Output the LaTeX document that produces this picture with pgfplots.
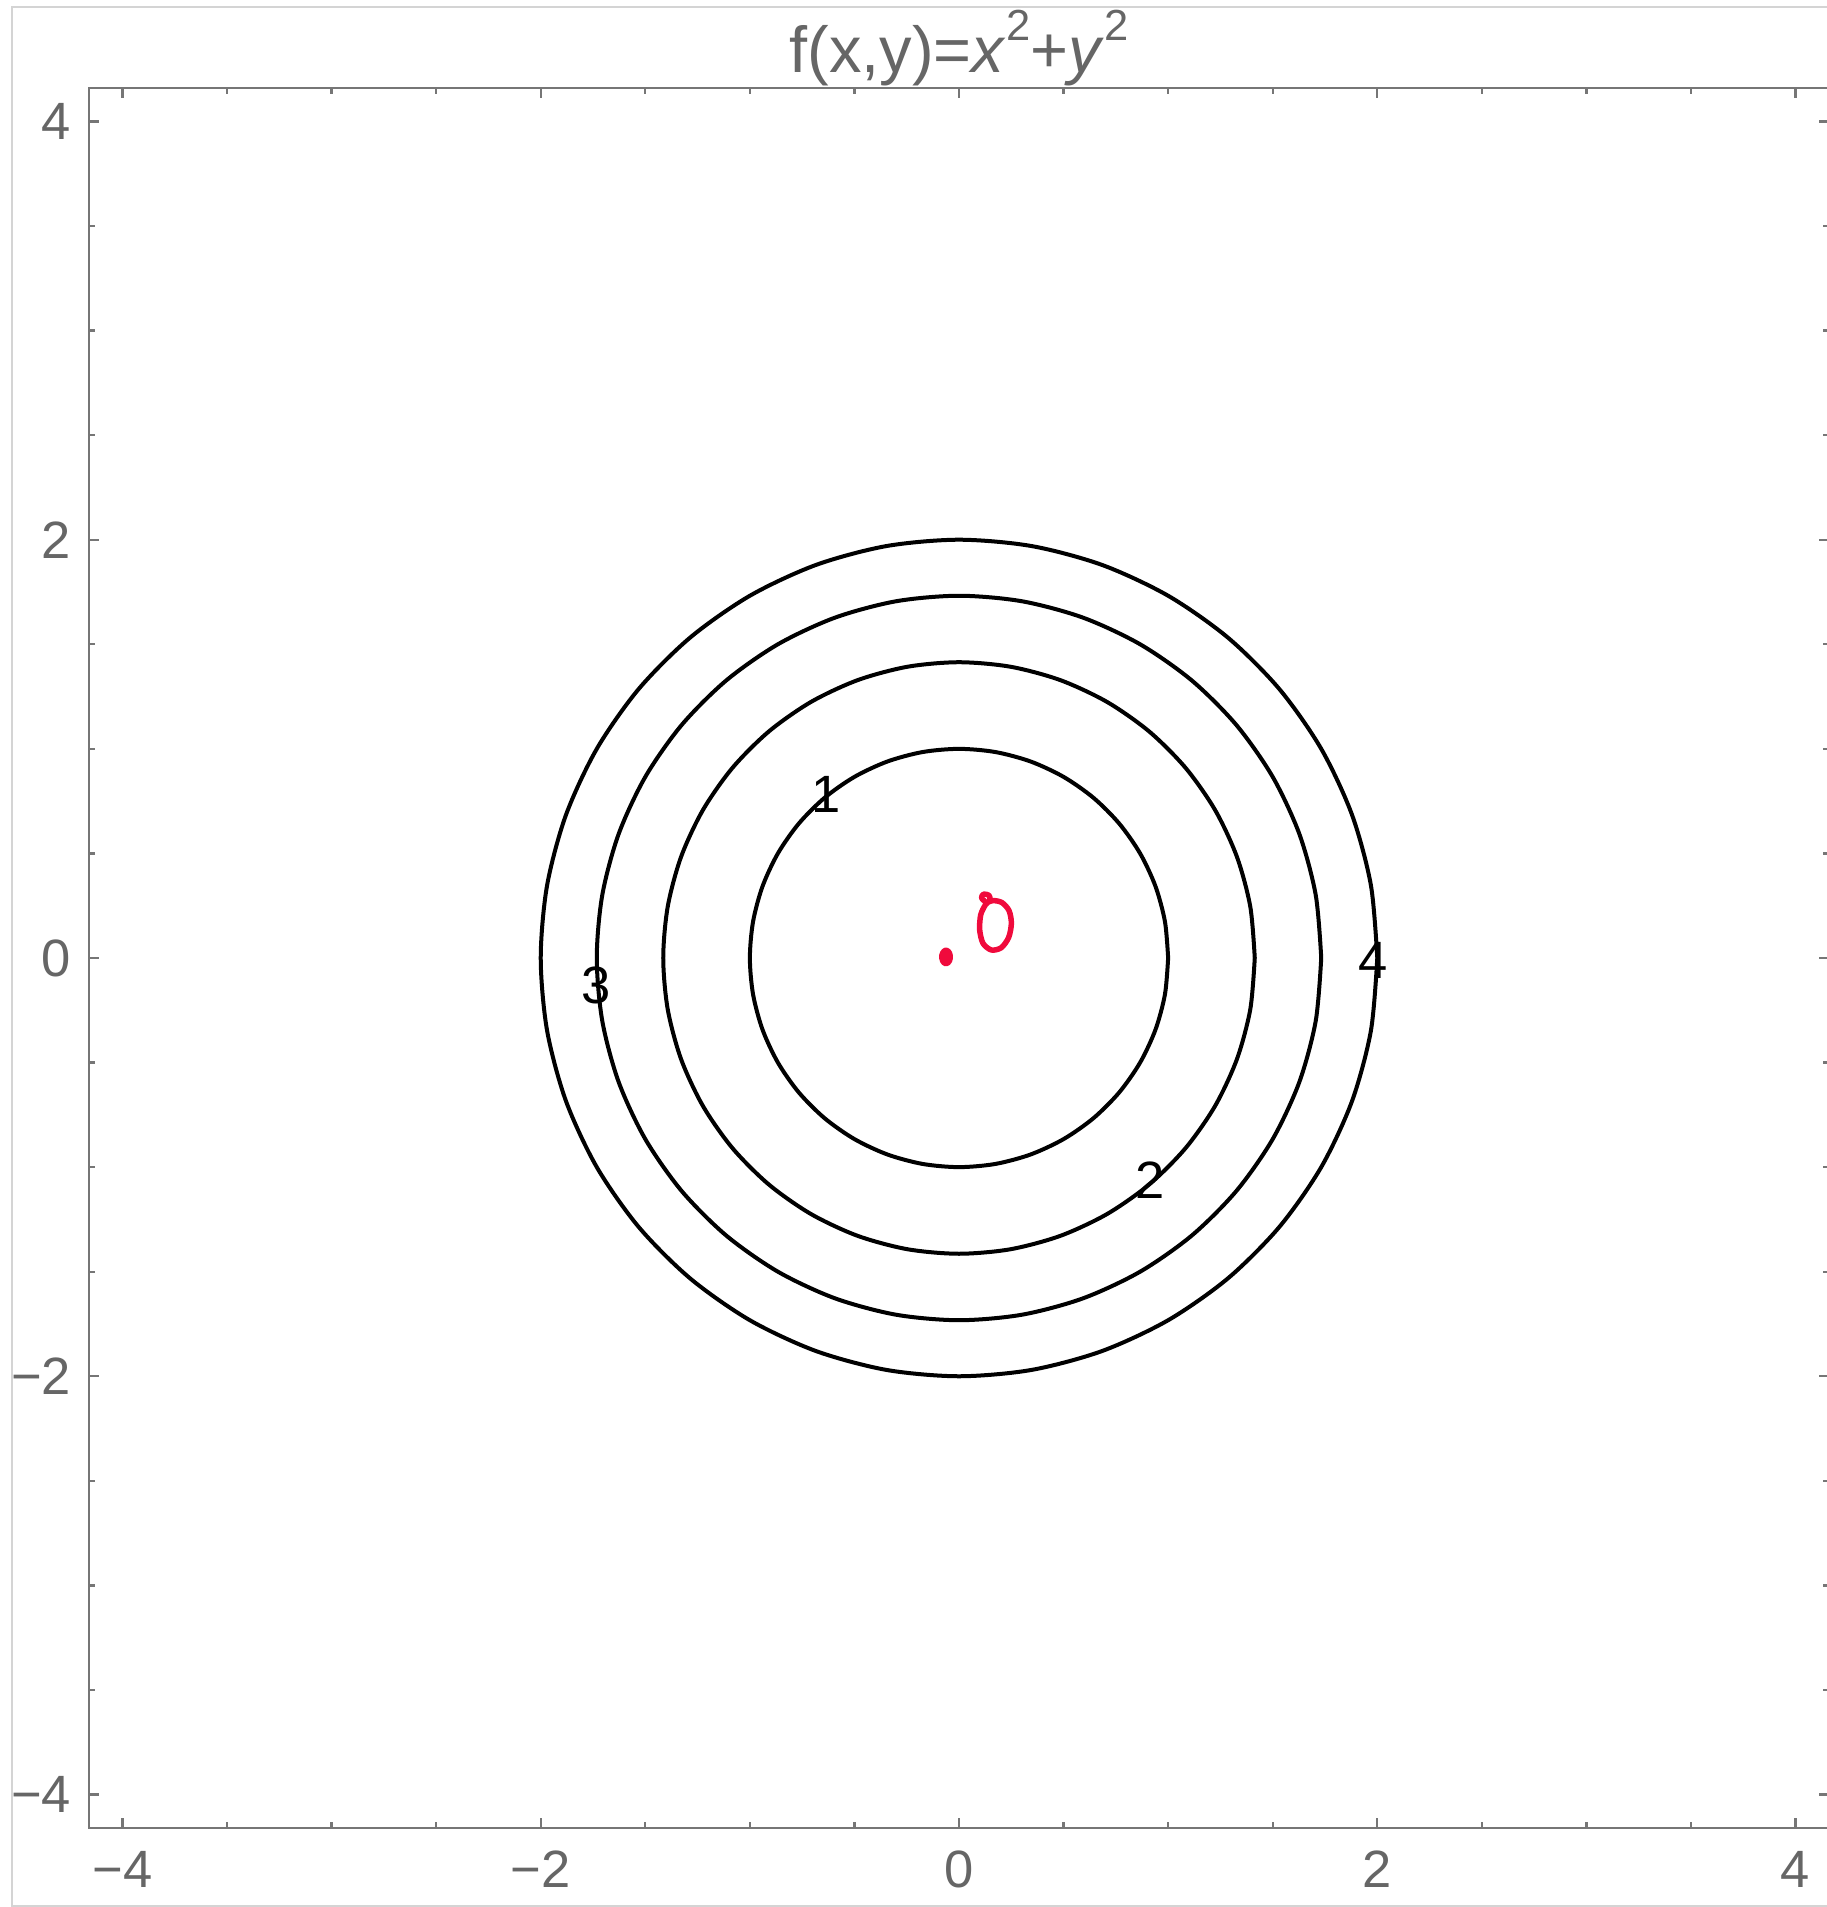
\documentclass[border=0pt]{standalone}
\usepackage{pgfplots}
\pgfplotsset{compat=1.18}
\usepackage{fontspec}
\setmainfont{Liberation Sans}
\definecolor{framegray}{RGB}{118,118,118}
\definecolor{labelgray}{RGB}{102,102,102}
\definecolor{bordergray}{RGB}{212,212,212}
\definecolor{inkred}{RGB}{240,10,60}
\begin{document}
\begin{tikzpicture}
\begin{axis}[
  scale only axis,
  width=348pt, height=348pt,
  xmin=-4.16, xmax=4.16, ymin=-4.16, ymax=4.16,
  xtick={-4,-2,0,2,4}, ytick={-4,-2,0,2,4},
  xticklabels={−4,−2,0,2,4}, yticklabels={−4,−2,0,2,4},
  minor tick num=3,
  tick align=inside,
  major tick length=2pt, minor tick length=1.2pt,
  axis line style={framegray, line width=0.45pt},
  every tick/.style={framegray, line width=0.45pt},
  xticklabel style={font=\fontsize{10.5}{10.5}\selectfont, text=labelgray, anchor=base, yshift=-12pt, inner sep=0pt},
  yticklabel style={font=\fontsize{10.5}{10.5}\selectfont, text=labelgray, anchor=east, xshift=-3.4pt, inner sep=0pt},
  title={f(x,y)=\textit{x}\raisebox{6.5pt}{\fontsize{8.7}{8.7}\selectfont 2}+\textit{y}\raisebox{6.5pt}{\fontsize{8.7}{8.7}\selectfont 2}},
  every axis title/.style={at={(0.5,1)}, anchor=base, yshift=3pt, inner sep=0pt, text=labelgray, font=\fontsize{13}{13}\selectfont},
  clip=false,
]
% contour f=1
\addplot[black, line width=0.8pt, smooth, line join=round] coordinates {
(1,0) (0.98481,0.17365) (0.93969,0.34202) (0.86603,0.5) (0.76604,0.64279) (0.64279,0.76604) (0.5,0.86603) (0.34202,0.93969) (0.17365,0.98481)
(0,1) (-0.17365,0.98481) (-0.34202,0.93969) (-0.5,0.86603) (-0.64279,0.76604) (-0.76604,0.64279) (-0.86603,0.5) (-0.93969,0.34202) (-0.98481,0.17365)
(-1,0) (-0.98481,-0.17365) (-0.93969,-0.34202) (-0.86603,-0.5) (-0.76604,-0.64279) (-0.64279,-0.76604) (-0.5,-0.86603) (-0.34202,-0.93969) (-0.17365,-0.98481)
(0,-1) (0.17365,-0.98481) (0.34202,-0.93969) (0.5,-0.86603) (0.64279,-0.76604) (0.76604,-0.64279) (0.86603,-0.5) (0.93969,-0.34202) (0.98481,-0.17365)
(1,0)};
% contour f=2
\addplot[black, line width=0.8pt, smooth, line join=round] coordinates {
(1.41421,0) (1.39273,0.24558) (1.32892,0.48369) (1.22474,0.70711) (1.08335,0.90904) (0.90904,1.08335) (0.70711,1.22474) (0.48369,1.32892) (0.24558,1.39273)
(0,1.41421) (-0.24558,1.39273) (-0.48369,1.32892) (-0.70711,1.22474) (-0.90904,1.08335) (-1.08335,0.90904) (-1.22474,0.70711) (-1.32892,0.48369) (-1.39273,0.24558)
(-1.41421,0) (-1.39273,-0.24558) (-1.32892,-0.48369) (-1.22474,-0.70711) (-1.08335,-0.90904) (-0.90904,-1.08335) (-0.70711,-1.22474) (-0.48369,-1.32892) (-0.24558,-1.39273)
(0,-1.41421) (0.24558,-1.39273) (0.48369,-1.32892) (0.70711,-1.22474) (0.90904,-1.08335) (1.08335,-0.90904) (1.22474,-0.70711) (1.32892,-0.48369) (1.39273,-0.24558)
(1.41421,0)};
% contour f=3
\addplot[black, line width=0.8pt, smooth, line join=round] coordinates {
(1.73205,0) (1.70574,0.30077) (1.62759,0.59240) (1.5,0.86603) (1.32682,1.11334) (1.11334,1.32682) (0.86603,1.5) (0.59240,1.62759) (0.30077,1.70574)
(0,1.73205) (-0.30077,1.70574) (-0.59240,1.62759) (-0.86603,1.5) (-1.11334,1.32682) (-1.32682,1.11334) (-1.5,0.86603) (-1.62759,0.59240) (-1.70574,0.30077)
(-1.73205,0) (-1.70574,-0.30077) (-1.62759,-0.59240) (-1.5,-0.86603) (-1.32682,-1.11334) (-1.11334,-1.32682) (-0.86603,-1.5) (-0.59240,-1.62759) (-0.30077,-1.70574)
(0,-1.73205) (0.30077,-1.70574) (0.59240,-1.62759) (0.86603,-1.5) (1.11334,-1.32682) (1.32682,-1.11334) (1.5,-0.86603) (1.62759,-0.59240) (1.70574,-0.30077)
(1.73205,0)};
% contour f=4
\addplot[black, line width=0.8pt, smooth, line join=round] coordinates {
(2,0) (1.96962,0.34730) (1.87938,0.68404) (1.73205,1) (1.53208,1.28558) (1.28558,1.53208) (1,1.73205) (0.68404,1.87938) (0.34730,1.96962)
(0,2) (-0.34730,1.96962) (-0.68404,1.87938) (-1,1.73205) (-1.28558,1.53208) (-1.53208,1.28558) (-1.73205,1) (-1.87938,0.68404) (-1.96962,0.34730)
(-2,0) (-1.96962,-0.34730) (-1.87938,-0.68404) (-1.73205,-1) (-1.53208,-1.28558) (-1.28558,-1.53208) (-1,-1.73205) (-0.68404,-1.87938) (-0.34730,-1.96962)
(0,-2) (0.34730,-1.96962) (0.68404,-1.87938) (1,-1.73205) (1.28558,-1.53208) (1.53208,-1.28558) (1.73205,-1) (1.87938,-0.68404) (1.96962,-0.34730)
(2,0)};
% contour labels
\node[font=\fontsize{10.5}{10.5}\selectfont, inner sep=0pt] at (axis cs:-0.636,0.78) {1};
\node[font=\fontsize{10.5}{10.5}\selectfont, inner sep=0pt] at (axis cs:0.914,-1.062) {2};
\node[font=\fontsize{10.5}{10.5}\selectfont, inner sep=0pt] at (axis cs:-1.737,-0.129) {3};
\node[font=\fontsize{10.5}{10.5}\selectfont, inner sep=0pt] at (axis cs:1.98,-0.01) {4};
% red handwritten annotation
\addplot[only marks, mark=*, inkred, mark size=1.2pt, mark options={yscale=1.4, rotate=10}] coordinates {(-0.062,0.005)};
\addplot[inkred, line width=1.1pt, smooth, line cap=round, line join=round] coordinates {
(0.1308,0.2647) (0.1080,0.2870) (0.1170,0.3050) (0.1430,0.3000) (0.1480,0.2760) (0.1260,0.2536)
(0.1037,0.2057) (0.0989,0.1340) (0.1148,0.0702) (0.1547,0.0383) (0.2025,0.0494) (0.2376,0.0989)
(0.2504,0.1659) (0.2392,0.2265) (0.2057,0.2647) (0.1627,0.2743) (0.1260,0.2616)};
\end{axis}
\draw[bordergray, line width=0.3pt] (360pt,364.2pt) -- (-15.4pt,364.2pt) -- (-15.4pt,-15.6pt) -- (360pt,-15.6pt);
\pgfresetboundingbox
\path[use as bounding box] (-17.8pt,-15.8pt) rectangle (347.6pt,365.6pt);
\end{tikzpicture}
\end{document}
